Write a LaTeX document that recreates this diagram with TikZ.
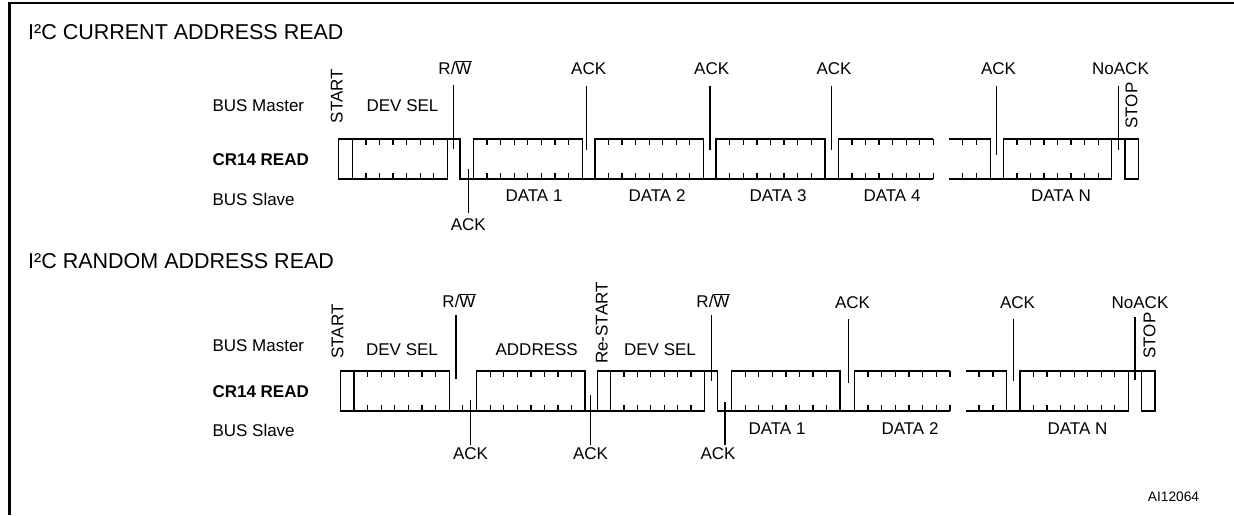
\documentclass[tikz,border=0pt]{standalone}
\usepackage{fontspec}
\setmainfont{Liberation Sans}
\newcommand\bitticks[5]{% start, step, count, top, bottom
  \foreach \k in {1,...,#3}{\draw[wave] ({#1+\k*#2},#4) -- ++(0,6) ({#1+\k*#2},#5) -- ++(0,-6);}}
\newcommand\marker[4]{\coordinate (#1a) at (#2,#3); \coordinate (#1b) at (#2,#4); \draw[mk] (#1a) -- (#1b);}
\newcommand\rw{R/$\overline{\hbox{W}}$}
\begin{document}
\begin{tikzpicture}[x=1pt,y=-1pt,
  wave/.style={line width=1.3pt, line join=miter},
  mk/.style={line width=1.3pt},
  lbl/.style={inner sep=0pt, anchor=base, font=\fontsize{17}{20}\selectfont},
  lblw/.style={lbl, anchor=base west},
  rot/.style={inner sep=0pt, rotate=90, font=\fontsize{17}{20}\selectfont},
  ttl/.style={inner sep=0pt, anchor=base west, font=\fontsize{21.5}{24}\selectfont}]
\useasboundingbox (0,0) rectangle (1234,515);
\draw[line width=2.5pt] (9.5,515) -- (9.5,2.8) -- (1234,2.8);

% ================= Row 1 =================
\node[ttl] (t1) at (28,39.5) {I²C CURRENT ADDRESS READ};
\node[lblw] (bm1) at (212.3,111.7) {BUS Master};
\node[lblw,font=\fontsize{17}{20}\selectfont\bfseries] (cr1) at (212.3,165) {CR14 READ};
\node[lblw] (bs1) at (212.3,205) {BUS Slave};
\node[rot] (st1) at (336.7,96) {START};
\node[lbl] (ds1) at (402.5,111.7) {DEV SEL};
\node[lbl] (rw1) at (455,74.5) {\rw};
\node[lbl] (a11) at (588.7,74.5) {ACK};
\node[lbl] (a12) at (711.7,74.5) {ACK};
\node[lbl] (a13) at (834,74.5) {ACK};
\node[lbl] (a14) at (998.5,74.5) {ACK};
\node[lbl] (na1) at (1120.5,74.5) {NoACK};
\node[rot] (sp1) at (1131.5,105.5) {STOP};
\node[lbl] (d11) at (534,201.7) {DATA 1};
\node[lbl] (d12) at (657,201.7) {DATA 2};
\node[lbl] (d13) at (778,201.7) {DATA 3};
\node[lbl] (d14) at (892,201.7) {DATA 4};
\node[lbl] (d1n) at (1061,201.7) {DATA N};
\node[lbl] (ab1) at (468.3,230) {ACK};

\draw[wave] (338.3,139) rectangle (352.3,179);
\draw[wave] (352.3,139) rectangle (447.3,179); \bitticks{352.3}{13.57}{6}{139}{179}
\draw[wave] (447.3,139) -- (460,139) -- (460,179) -- (473.3,179);
\draw[wave] (473.3,139) rectangle (582.3,179); \bitticks{473.3}{13.625}{7}{139}{179}
\draw[wave] (582.3,179) -- (595,179);
\draw[wave] (595,139) rectangle (703.3,179); \bitticks{595}{13.54}{7}{139}{179}
\draw[wave] (703.3,179) -- (716,179);
\draw[wave] (716,139) rectangle (825,179); \bitticks{716}{13.625}{7}{139}{179}
\draw[wave] (825,179) -- (838.3,179);
\draw[wave] (933.3,139) -- (838.3,139) -- (838.3,179) -- (933.3,179); \bitticks{838.3}{13.571}{7}{139}{179}
\draw[wave] (949.3,139) -- (990.7,139) -- (990.7,179) -- (949.3,179); \bitticks{948.7}{14}{2}{139}{179}
\draw[wave] (990.7,179) -- (1003.3,179);
\draw[wave] (1003.3,139) rectangle (1111.7,179); \bitticks{1003.3}{13.55}{7}{139}{179}
\draw[wave] (1111.7,139) -- (1125,139);
\draw[wave] (1125,139) rectangle (1138.3,179);

\marker{m1rw}{453.3}{85}{149}
\marker{m1ab}{468.3}{169}{213}
\marker{m1a}{586.7}{86}{150}
\marker{m1b}{710}{86}{150}
\marker{m1c}{831.7}{86}{150}
\marker{m1d}{996.7}{86}{155}
\marker{m1n}{1118.3}{86}{150}

% ================= Row 2 =================
\node[ttl] (t2) at (28,268) {I²C RANDOM ADDRESS READ};
\node[lblw] (bm2) at (212.3,351.7) {BUS Master};
\node[lblw,font=\fontsize{17}{20}\selectfont\bfseries] (cr2) at (212.3,397) {CR14 READ};
\node[lblw] (bs2) at (212.3,436.7) {BUS Slave};
\node[rot] (st2) at (337.5,331.5) {START};
\node[lbl] (ds2) at (402,355) {DEV SEL};
\node[lbl] (rw2) at (459,307.7) {\rw};
\node[lbl] (ad2) at (536.7,355) {ADDRESS};
\node[rot] (rs2) at (601.7,323) {Re-START};
\node[lbl] (ds3) at (660,355) {DEV SEL};
\node[lbl] (rw3) at (713,307.7) {\rw};
\node[lbl] (a21) at (852.5,308.3) {ACK};
\node[lbl] (a22) at (1017.5,308.3) {ACK};
\node[lbl] (na2) at (1140,308.3) {NoACK};
\node[rot] (sp2) at (1149.5,335.5) {STOP};
\node[lbl] (d21) at (777,434) {DATA 1};
\node[lbl] (d22) at (910,434) {DATA 2};
\node[lbl] (d2n) at (1077.5,434) {DATA N};
\node[lbl] (ab21) at (470.5,459) {ACK};
\node[lbl] (ab22) at (590.5,459) {ACK};
\node[lbl] (ab23) at (718,459) {ACK};
\node[inner sep=0pt, anchor=base, font=\fontsize{13.7}{16}\selectfont] (ai) at (1173.5,501.7) {AI12064};

\draw[wave] (340.7,371) rectangle (354,411);
\draw[wave] (354,371) rectangle (449.3,411); \bitticks{354}{13.61}{6}{371}{411}
\draw[wave] (449.3,411) -- (476.7,411); \draw[wave] (462.7,411) -- ++(0,-6);
\draw[wave] (476.7,371) rectangle (585,411); \bitticks{476.7}{13.54}{7}{371}{411}
\draw[wave] (585,411) -- (597.3,411);
\draw[wave] (597.3,371) rectangle (610.7,411);
\draw[wave] (610.7,371) rectangle (704.3,411); \bitticks{610.7}{13.37}{6}{371}{411}
\draw[wave] (704.3,371) -- (717.7,371) -- (717.7,411) -- (731.7,411);
\draw[wave] (731.7,371) rectangle (840,411); \bitticks{731.7}{13.54}{7}{371}{411}
\draw[wave] (840,411) -- (854.3,411);
\draw[wave] (950,371) -- (854.3,371) -- (854.3,411) -- (950,411); \bitticks{854.3}{13.671}{7}{371}{411}
\draw[wave] (965.7,371) -- (1006.7,371) -- (1006.7,411) -- (965.7,411); \bitticks{965.3}{13.8}{2}{371}{411}
\draw[wave] (1006.7,411) -- (1020,411);
\draw[wave] (1020,371) rectangle (1128.3,411); \bitticks{1020}{13.54}{7}{371}{411}
\draw[wave] (1128.3,371) -- (1141.7,371);
\draw[wave] (1141.7,371) rectangle (1155,411);

\marker{m2rw}{456}{315}{379}
\marker{m2ab}{470.7}{400}{445}
\marker{m2ac}{590.3}{395}{445}
\marker{m2rx}{711.7}{315}{381}
\marker{m2ad}{725}{402}{445}
\marker{m2a}{848.3}{319}{383}
\marker{m2b}{1013.3}{319}{381}
\marker{m2n}{1135}{317}{380}
\end{tikzpicture}
\end{document}
